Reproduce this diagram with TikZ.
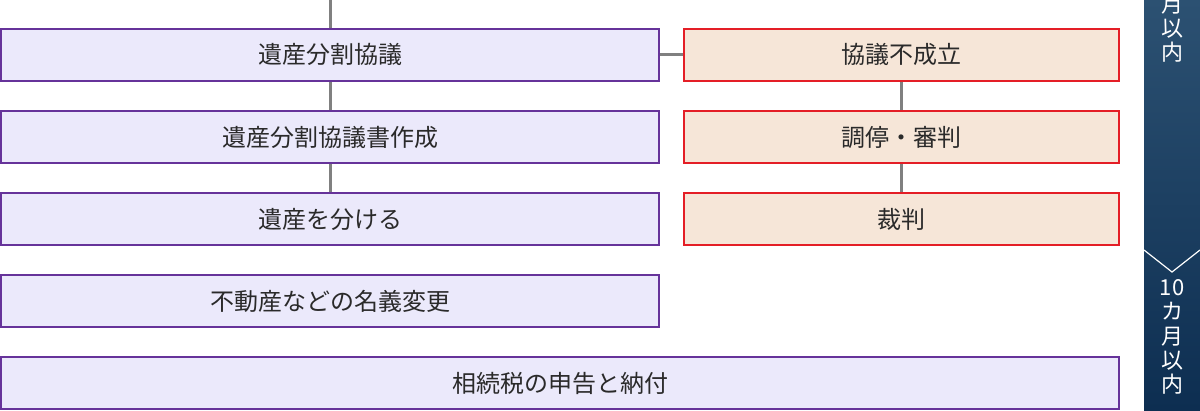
\documentclass[tikz,border=0pt]{standalone}
\usepackage{fontspec}
\newfontfamily\jp{Noto Sans CJK JP}
\definecolor{pborder}{HTML}{66339A}
\definecolor{pfill}{HTML}{EBE9FB}
\definecolor{rborder}{HTML}{E41E26}
\definecolor{rfill}{HTML}{F6E6D8}
\definecolor{txt}{HTML}{2A2A2A}
\definecolor{conn}{HTML}{808080}
\definecolor{bartop}{HTML}{2C5172}
\definecolor{barbot}{HTML}{0D2E51}
\tikzset{
  pbox/.style={draw=pborder, fill=pfill, line width=2pt, rectangle, minimum height=52pt, inner sep=0pt, text=txt, font=\jp\fontsize{24}{26}\selectfont},
  rbox/.style={draw=rborder, fill=rfill, line width=2pt, rectangle, minimum height=52pt, minimum width=435pt, inner sep=0pt, text=txt, font=\jp\fontsize{24}{26}\selectfont},
  conline/.style={draw=conn, line width=3pt},
  bartext/.style={text=white, align=center, inner sep=0pt, font=\jp\fontsize{22}{24.2}\selectfont},
}
\begin{document}
\begin{tikzpicture}[x=1pt,y=-1pt]
\useasboundingbox (0,0) rectangle (1200,410);
\fill[white] (0,0) rectangle (1200,410);
% right bar
\begin{scope}
\clip (1144,0) rectangle (1200,410);
\shade[top color=bartop, bottom color=barbot] (1144,0) rectangle (1200,410);
\node[bartext] (bt1) at (1172,29) {月\\以\\内};
\end{scope}
\coordinate (chl) at (1144,250);
\coordinate (chm) at (1172,272);
\coordinate (chr) at (1200,250);
\draw[white, line width=1.2pt] (chl) -- (chm) -- (chr);
\node[bartext] (bt2) at (1172,337) {10\\カ\\月\\以\\内};
% left boxes
\node[pbox, minimum width=658pt] (a1) at (330,54.5) {遺産分割協議};
\node[pbox, minimum width=658pt] (a2) at (330,137) {遺産分割協議書作成};
\node[pbox, minimum width=658pt] (a3) at (330,219) {遺産を分ける};
\node[pbox, minimum width=658pt] (a4) at (330,301) {不動産などの名義変更};
\node[pbox, minimum width=1118pt] (a5) at (560,383) {相続税の申告と納付};
% right boxes
\node[rbox] (b1) at (901.5,54.5) {協議不成立};
\node[rbox] (b2) at (901.5,137) {調停・審判};
\node[rbox] (b3) at (901.5,219) {裁判};
% connectors
\coordinate (top) at (330,0);
\draw[conline] (top) -- (a1.north);
\draw[conline] (a1.south) -- (a2.north);
\draw[conline] (a2.south) -- (a3.north);
\draw[conline] (a1.east) -- (b1.west);
\draw[conline] (b1.south) -- (b2.north);
\draw[conline] (b2.south) -- (b3.north);
\end{tikzpicture}
\end{document}
